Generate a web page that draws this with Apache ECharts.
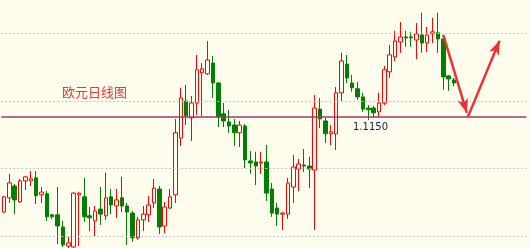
<!DOCTYPE html>
<html><head><meta charset="utf-8">
<script src="https://cdn.jsdelivr.net/npm/echarts@6/dist/echarts.min.js"></script>
<style>html,body{margin:0;padding:0;background:#fffeee}#c{width:530px;height:248px}</style>
</head><body><div id="c"></div>
<script>
// ---- data ----
const dayCount = 98; // 85 candles + empty room on the right for the arrows
const categories = Array.from({length: dayCount}, (_, i) => 'D' + (i + 1));
const opens = [1.0872,1.0914,1.0949,1.0902,1.0964,1.0964,1.0973,1.0923,1.0926,1.0864,
 1.0864,1.0828,1.0772,1.0769,1.0923,1.0917,1.0861,1.0846,1.0881,1.0861,
 1.0917,1.0890,1.0914,1.0890,1.0869,1.0796,1.0849,1.0864,1.0899,1.0940,
 1.0831,1.0884,1.0923,1.1091,1.1200,1.1150,1.1194,1.1283,1.1280,1.1312,
 1.1253,1.1162,1.1138,1.1129,1.1106,1.1126,1.1023,1.1020,1.1017,1.1020,
 1.0940,1.0884,1.0866,1.0866,1.0946,1.0999,1.1011,1.1008,1.0996,1.1176,
 1.1141,1.1103,1.1103,1.1224,1.1309,1.1253,1.1236,1.1212,1.1179,1.1179,
 1.1168,1.1194,1.1286,1.1330,1.1374,1.1389,1.1389,1.1380,1.1395,1.1371,
 1.1398,1.1401,1.1383,1.1274,1.1262];
const closes = [1.0917,1.0958,1.0908,1.0964,1.0976,1.0970,1.0920,1.0931,1.0858,1.0858,
 1.0831,1.0775,1.0781,1.0928,1.0928,1.0858,1.0855,1.0875,1.0866,1.0914,
 1.0893,1.0908,1.0890,1.0872,1.0796,1.0849,1.0866,1.0893,1.0943,1.0828,
 1.0887,1.0917,1.1106,1.1209,1.1156,1.1194,1.1292,1.1295,1.1321,1.1253,
 1.1153,1.1141,1.1126,1.1106,1.1129,1.1026,1.1017,1.1008,1.1020,1.0928,
 1.0869,1.0866,1.0869,1.0958,1.1005,1.1014,1.1008,1.0999,1.1179,1.1147,
 1.1103,1.1109,1.1224,1.1318,1.1268,1.1239,1.1212,1.1176,1.1174,1.1165,
 1.1194,1.1292,1.1336,1.1377,1.1389,1.1386,1.1386,1.1398,1.1371,1.1395,
 1.1404,1.1383,1.1271,1.1265,1.1253];
const lows = [1.0869,1.0899,1.0866,1.0899,1.0937,1.0949,1.0896,1.0899,1.0846,1.0852,
 1.0778,1.0769,1.0766,1.0766,1.0772,1.0843,1.0816,1.0799,1.0834,1.0849,
 1.0866,1.0855,1.0872,1.0775,1.0784,1.0790,1.0816,1.0843,1.0884,1.0807,
 1.0810,1.0881,1.0899,1.1067,1.1129,1.1082,1.1159,1.1156,1.1277,1.1209,
 1.1123,1.1123,1.1106,1.1067,1.1064,1.1002,1.0985,1.0952,1.0985,1.0905,
 1.0858,1.0831,1.0819,1.0852,1.0899,1.0934,1.0990,1.0943,1.0819,1.1120,
 1.1076,1.1070,1.1055,1.1200,1.1253,1.1227,1.1203,1.1168,1.1144,1.1150,
 1.1150,1.1188,1.1268,1.1318,1.1342,1.1360,1.1360,1.1324,1.1342,1.1345,
 1.1371,1.1342,1.1233,1.1230,1.1244];
const highs = [1.0920,1.0985,1.0955,1.0970,1.0979,1.0993,1.0993,1.0946,1.0934,1.0866,
 1.0946,1.0846,1.0799,1.0931,1.0931,1.0973,1.0887,1.0890,1.0946,1.0988,
 1.0940,1.0940,1.0976,1.0899,1.0875,1.0858,1.0890,1.0920,1.0970,1.0949,
 1.0902,1.0940,1.1147,1.1239,1.1247,1.1215,1.1336,1.1312,1.1377,1.1333,
 1.1256,1.1194,1.1174,1.1147,1.1141,1.1132,1.1052,1.1050,1.1050,1.1070,
 1.0958,1.0899,1.0872,1.0973,1.1041,1.1029,1.1058,1.1035,1.1218,1.1209,
 1.1150,1.1129,1.1241,1.1342,1.1336,1.1277,1.1256,1.1224,1.1188,1.1185,
 1.1224,1.1303,1.1365,1.1407,1.1433,1.1407,1.1404,1.1430,1.1460,1.1419,
 1.1445,1.1460,1.1389,1.1277,1.1268];
const gridLevels = [1.14, 1.12, 1.10, 1.08];
const levelValue = 1.1154;
const levelLabel = '1.1150';
const titleText = '欧元日线图';
const arrowDown = [[82.0, 1.1395], [86.4, 1.1165]];
const arrowUp = [[86.6, 1.1153], [92.5, 1.1378]];

// ---- chart ----
const candleData = opens.map((o, i) => [o, closes[i], lows[i], highs[i]]);
const bg = '#fffeee';
const chart = echarts.init(document.getElementById('c'));
const arrowItem = (seg) => [
  {coord: seg[0], symbol: 'none'},
  {coord: seg[1], symbol: 'arrow', symbolSize: [8, 14]}
];
const hLine = (v, style) => [
  {coord: [-0.5, v], symbol: 'none', lineStyle: style},
  {coord: [dayCount - 0.5, v], symbol: 'none'}
];
chart.setOption({
  animation: false,
  backgroundColor: bg,
  grid: {left: 1.3, right: 3.7, top: 0, bottom: 0},
  xAxis: [
    {type: 'category', data: categories, show: false, boundaryGap: true},
    {type: 'value', min: -0.5, max: dayCount - 0.5, show: false}
  ],
  yAxis: {type: 'value', min: 1.0766, max: 1.1498, show: false, splitLine: {show: false}},
  graphic: [
    {type: 'text', x: 62, y: 92, silent: true,
     style: {text: titleText, fill: '#ee3434', fontSize: 13, fontFamily: '"Noto Sans CJK SC"', verticalAlign: 'middle'}},
    {type: 'text', x: 353, y: 127, silent: true,
     style: {text: levelLabel, fill: '#1e1e3c', fontSize: 10, fontFamily: '"DejaVu Sans"', verticalAlign: 'middle'}}
  ],
  series: [
    {
      type: 'line',
      xAxisIndex: 1,
      yAxisIndex: 0,
      data: [],
      markLine: {
        silent: true, animation: false,
        symbol: ['none', 'none'],
        label: {show: false},
        data: gridLevels.map(v => hLine(v, {color: '#c4c4c4', type: [2, 2], width: 1}))
          .concat([hLine(levelValue, {color: '#963c6e', type: 'solid', width: 1.5})])
      },
      z: 1
    },
    {
      type: 'candlestick',
      data: candleData,
      barWidth: 4,
      itemStyle: {color: bg, color0: '#008000', borderColor: '#ff0000', borderColor0: '#008000', borderWidth: 1},
      z: 3
    },
    {
      type: 'line',
      xAxisIndex: 1,
      yAxisIndex: 0,
      data: [],
      markLine: {
        silent: true, animation: false,
        symbol: ['none', 'arrow'],
        label: {show: false},
        lineStyle: {color: '#f03030', width: 2.5, type: 'solid'},
        data: [arrowItem(arrowDown), arrowItem(arrowUp)]
      },
      z: 5
    }
  ]
});
</script>
</body></html>
